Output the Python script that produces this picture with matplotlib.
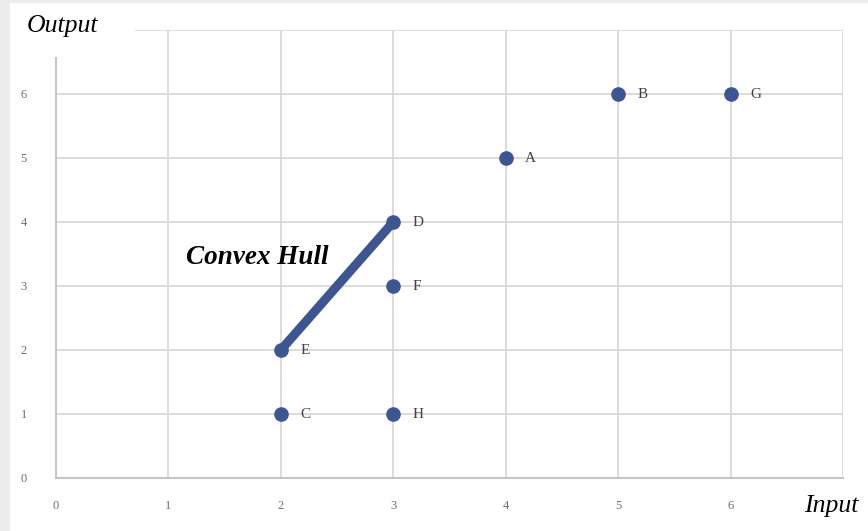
import matplotlib.pyplot as plt
from matplotlib.patches import Rectangle

# point data
names = ['A', 'B', 'C', 'D', 'E', 'F', 'G', 'H']
inputs = [4, 5, 2, 3, 2, 3, 6, 3]
outputs = [5, 6, 1, 4, 2, 3, 6, 1]

# convex hull segment (E -> D)
hull_x = [2, 3]
hull_y = [2, 4]

ticks = [0, 1, 2, 3, 4, 5, 6]

plt.rcParams['font.family'] = ['Liberation Serif', 'DejaVu Serif']

blue = '#3d5590'
grid_c = '#d9d9d9'

fig = plt.figure(figsize=(8.68, 5.31), dpi=100)
fig.patch.set_facecolor('white')

# light grey page frame on left and top
fig.patches.append(Rectangle((0, 0), 10 / 868, 1, transform=fig.transFigure,
                             facecolor='#ececec', edgecolor='none', zorder=0))
fig.patches.append(Rectangle((0, 1 - 3 / 531), 1, 3 / 531, transform=fig.transFigure,
                             facecolor='#ececec', edgecolor='none', zorder=0))

ax = fig.add_axes([56 / 868, 53 / 531, 787 / 868, 448 / 531])
ax.set_xlim(0, 7)
ax.set_ylim(0, 7)
ax.set_xticks(ticks)
ax.set_yticks(ticks)
ax.tick_params(length=0, labelsize=9, labelcolor='#6e6e6e')
ax.tick_params(axis='x', pad=16)
ax.tick_params(axis='y', pad=21)

# grid: gridlines at integer positions incl. 7
for v in range(1, 8):
    ax.axvline(v, color=grid_c, lw=1.3, zorder=0)
    ax.axhline(v, color=grid_c, lw=1.3, zorder=0)

for s in ['top', 'right']:
    ax.spines[s].set_visible(False)
for s in ['left', 'bottom']:
    ax.spines[s].set_color('#bfbfbf')
    ax.spines[s].set_linewidth(1.3)

ax.plot(hull_x, hull_y, color=blue, lw=6.5, solid_capstyle='round', zorder=2)
ax.plot(inputs, outputs, 'o', color=blue, markersize=9.5, zorder=3)

for n, x, y in zip(names, inputs, outputs):
    ax.annotate(n, (x, y), xytext=(14, 0), textcoords='offset points',
                va='center', ha='left', fontsize=11, color='#404040')

ax.text(1.16, 3.45, 'Convex Hull', fontsize=19.5, fontstyle='italic',
        fontweight='bold', va='center', ha='left', color='black')

# white box behind the Output title hides top of spine and grid
fig.patches.append(Rectangle((18 / 868, 1 - 57 / 531), 117 / 868, 50 / 531,
                             transform=fig.transFigure, facecolor='white',
                             edgecolor='none', zorder=5))
fig.text(27 / 868, 1 - 26 / 531, 'Output', fontsize=18.5, fontstyle='italic',
         va='center', ha='left', zorder=6)
fig.text(858 / 868, 1 - 506 / 531, 'Input', fontsize=18.5, fontstyle='italic',
         va='center', ha='right', zorder=6)

fig.savefig('out.png', dpi=100)
